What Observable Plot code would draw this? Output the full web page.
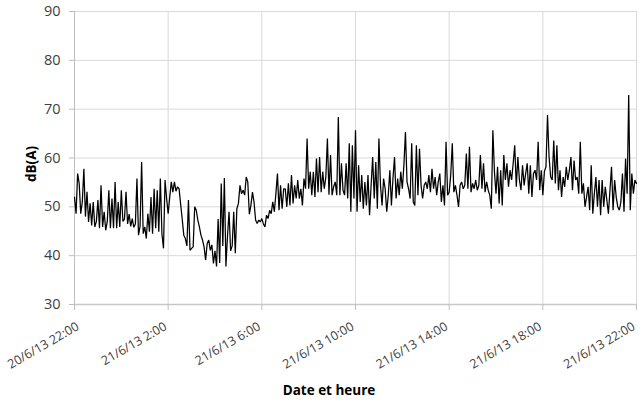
<!DOCTYPE html>
<html>
<head>
<meta charset="utf-8">
<script src="https://cdn.jsdelivr.net/npm/d3@7"></script>
<script src="https://cdn.jsdelivr.net/npm/@observablehq/plot@0.6"></script>
<style>
  html, body { margin: 0; padding: 0; background: #fff; }
  #chart { width: 639px; height: 400px; }
</style>
</head>
<body>
<div id="chart"></div>
<script>
// Sound level readings, dB(A), one every 4 minutes from 20/6/13 22:00 to 21/6/13 22:00
const startTime = "2013-06-20T22:00:00Z";
const stepMinutes = 4;
// 20/6 22:00 - 21/6 2:00
const block22to02 = [
  52, 48.6, 56.8, 54.8, 48.6, 51, 57.8, 48, 53.1, 46.9, 50.7, 46.2, 51, 45.9, 47,
  51.4, 45.6, 54.4, 45.9, 49, 45.2, 47, 53.4, 45.6, 51.7, 45.6, 55.1, 45.6, 51, 45.9,
  53.4, 47, 47.5, 53.1, 46.5, 48.5, 46, 47.6, 45.8, 46.5, 55.8, 44.2, 46, 59.2, 44.5,
  45.9, 43.5, 48.6, 44.9, 52, 44.5, 53.7, 45.6, 53.4, 44.9, 55.8, 44.5, 41.5, 55.5, 51.7
];
// 2:00 - 6:00
const block02to06 = [
  48.6, 52, 55.1, 53, 55.1, 53.2, 54.1, 53.7, 50.5, 47.5, 44.2, 43.5, 42, 51.4, 41.1,
  41.5, 41.8, 50, 49.3, 47.3, 45.9, 44.2, 43.2, 41.8, 39.1, 42.5, 43.2, 41.1, 42.2, 38.4,
  41, 37.8, 47.5, 38.5, 54.8, 42, 55.9, 37.8, 44, 49, 41, 42, 49, 40.5, 49.6,
  50.7, 54.4, 52.7, 53.4, 52.4, 56.1, 55.1, 48.5, 50.3, 53, 51, 47.3, 46.6, 47.3, 46.9
];
// 6:00 - 10:00
const block06to10 = [
  47.6, 46.5, 45.9, 48.3, 47.6, 49.3, 48.6, 51, 49, 52.7, 56.8, 49.3, 54.4, 49.6, 53.7,
  53.7, 50, 54.8, 50.3, 56.5, 50.7, 54.4, 51.7, 55.5, 51.7, 53.7, 50.3, 55.8, 53.7, 64,
  53.7, 57.2, 52.4, 57.2, 52, 59.9, 53, 60.2, 53, 57.2, 53.7, 56.1, 64, 52.5, 60.6,
  52.4, 54.1, 55.1, 52.4, 68.4, 52.4, 58.9, 53.4, 52.4, 58.9, 51.7, 63, 49, 62.6, 51.7
];
// 10:00 - 14:00
const block10to14 = [
  65.7, 49, 58.5, 51, 56.5, 49.6, 55.1, 50.3, 56.5, 48.3, 54.4, 60.2, 51.7, 59.2, 49.6,
  64, 54.4, 50.3, 55.8, 53.7, 49, 52.4, 57.5, 50.3, 55.8, 60.2, 51.7, 55.8, 52.4, 57.2,
  53.7, 58.5, 65.3, 55.1, 53.7, 51.7, 63, 51, 50.3, 62.6, 52.4, 61.9, 54.4, 51.7, 54.4,
  55.1, 53.7, 56.5, 53, 57.8, 53.7, 56.1, 52.4, 55.1, 56.8, 51, 54.4, 50.3, 63.3, 52.4
];
// 14:00 - 18:00
const block14to18 = [
  53, 56.5, 63, 53, 54.4, 52.4, 50, 54.4, 55.1, 53.7, 54.4, 60.9, 53.7, 62.3, 53,
  54.8, 53.7, 55.5, 53.4, 54.4, 60.6, 53.7, 58.9, 53, 55.1, 53.4, 52.4, 49.6, 65.7, 57.2,
  52.7, 58.2, 50.7, 57.5, 50.3, 60.6, 55.5, 58.9, 54.1, 57.5, 55.5, 58.9, 62.6, 54.1, 60.2,
  55.5, 53.4, 58.5, 54.4, 56.8, 58.9, 52.7, 58.5, 52, 56.8, 57.5, 55.5, 63.3, 53.4, 57.5
];
// 18:00 - 22:00
const block18to22 = [
  52.4, 57.2, 58.2, 68.8, 60.2, 56.1, 55.5, 63.6, 54.8, 62.6, 53.4, 57.5, 52, 56.1, 54.1,
  58.2, 55.5, 57.5, 60.2, 53.4, 59.5, 55.5, 56.1, 52.7, 63.3, 52.7, 54.8, 50, 52, 54.1,
  49.3, 58.5, 48.6, 52.7, 56.1, 50, 55.5, 48.3, 55.5, 50, 54.1, 51.4, 48.6, 53.4, 58.2,
  49.3, 55.5, 52, 50, 49.3, 51, 56.8, 49, 59.9, 52.7, 72.9, 49.3, 56.8, 52.7, 55.5,
  54.8
];
const yTicks = [30, 40, 50, 60, 70, 80, 90];
const xTickLabels = ["20/6/13 22:00", "21/6/13 2:00", "21/6/13 6:00", "21/6/13 10:00", "21/6/13 14:00", "21/6/13 18:00", "21/6/13 22:00"];
const xTickHoursAfterStart = [0, 4, 8, 12, 16, 20, 24];
const yLabel = "dB(A)";
const xLabel = "Date et heure";

const dbA = [...block22to02, ...block02to06, ...block06to10, ...block10to14, ...block14to18, ...block18to22];
const t0 = new Date(startTime).getTime();
const rows = dbA.map((v, i) => ({ time: new Date(t0 + i * stepMinutes * 60000), db: v }));
const xTicks = xTickHoursAfterStart.map(h => new Date(t0 + h * 3600000));
const tickRows = xTicks.map((d, i) => ({ time: d, label: xTickLabels[i] }));
const tickTextStyle = {
  x: "time", text: "label", frameAnchor: "bottom", textAnchor: "end", lineAnchor: "middle",
  rotate: -30, dy: 21, fontSize: 12.5, fill: "#404040"
};

const chart = Plot.plot({
  width: 639,
  height: 400,
  marginLeft: 74,
  marginRight: 3,
  marginTop: 11,
  marginBottom: 96,
  style: { fontFamily: "'Open Sans', sans-serif", background: "#fff", overflow: "visible" },
  x: { type: "utc", domain: [xTicks[0], xTicks[xTicks.length - 1]] },
  y: { domain: [30, 90] },
  marks: [
    Plot.gridY(yTicks, { stroke: "#d9d9d9", strokeOpacity: 1, strokeWidth: 1 }),
    Plot.gridX(xTicks, { stroke: "#d9d9d9", strokeOpacity: 1, strokeWidth: 1 }),
    Plot.ruleX([xTicks[0]], { stroke: "#bfbfbf", strokeWidth: 1 }),
    Plot.ruleY([30], { stroke: "#c8c8c8", strokeWidth: 1.6 }),
    Plot.axisY(yTicks, {
      tickSize: 5, tickPadding: 9, stroke: "#bfbfbf", fontSize: 14.5, fill: "#404040",
      label: null
    }),
    Plot.axisX(xTicks, {
      tickSize: 6, stroke: "#bfbfbf", tickFormat: () => "", label: null
    }),
    Plot.text(tickRows.slice(0, 1), { ...tickTextStyle, dx: 3.5 }),
    Plot.text(tickRows.slice(1), { ...tickTextStyle, dx: -2.5 }),
    Plot.lineY(rows, { x: "time", y: "db", stroke: "#000", strokeWidth: 1.25, strokeLinejoin: "miter" })
  ]
});

const wrap = document.getElementById("chart");
wrap.appendChild(chart);
const svg = d3.select(chart);
// y-axis title
svg.append("text")
  .attr("transform", "translate(36,164) rotate(-90)")
  .attr("text-anchor", "middle")
  .attr("font-family", "'Open Sans', sans-serif")
  .attr("font-weight", "bold").attr("font-size", 13.5).attr("fill", "#000")
  .text(yLabel);
// x-axis title below the tick labels
svg.append("text")
  .attr("x", 329).attr("y", 395)
  .attr("text-anchor", "middle")
  .attr("font-family", "'Open Sans', sans-serif")
  .attr("font-weight", "bold").attr("font-size", 13.5).attr("fill", "#000")
  .text(xLabel);
</script>
</body>
</html>
